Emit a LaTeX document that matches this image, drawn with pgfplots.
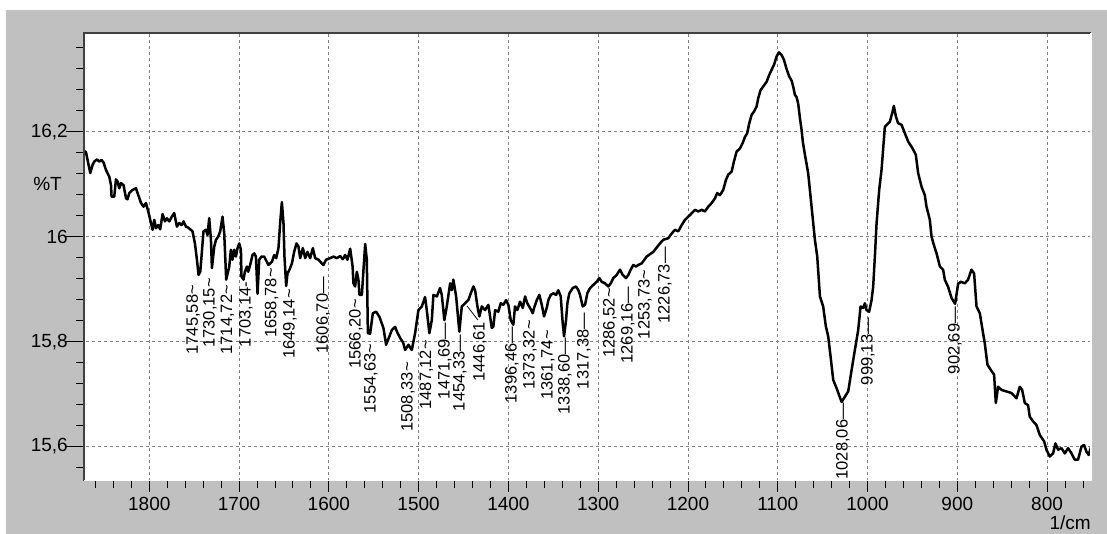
\documentclass[border=0pt]{standalone}
\usepackage{fontspec}
\setmainfont{Liberation Sans}
\usepackage{pgfplots}
\pgfplotsset{compat=1.18}
\usepackage{pgfplotstable}
\definecolor{bgray}{HTML}{C0C0C0}
\definecolor{gridgray}{HTML}{808080}
\definecolor{framedark}{HTML}{404040}

\pgfplotstableread{
x y
1871.8 16.163
1870.5 16.161
1868.7 16.146
1865.7 16.121
1863.1 16.137
1861.2 16.143
1858.2 16.147
1855.7 16.143
1853.1 16.146
1850.9 16.141
1848.2 16.127
1844.5 16.114
1842.6 16.098
1842.0 16.076
1839.0 16.076
1837.1 16.109
1835.3 16.105
1833.4 16.092
1831.5 16.102
1828.6 16.098
1825.9 16.073
1824.2 16.071
1822.3 16.083
1818.6 16.089
1814.8 16.092
1813.0 16.083
1809.2 16.064
1806.3 16.057
1803.7 16.064
1801.1 16.048
1798.1 16.026
1796.3 16.013
1794.4 16.032
1792.5 16.016
1790.0 16.022
1787.8 16.014
1785.2 16.043
1782.5 16.029
1780.3 16.035
1777.7 16.029
1775.2 16.037
1772.2 16.045
1769.2 16.019
1766.6 16.026
1764.0 16.022
1761.8 16.029
1759.1 16.019
1757.4 16.018
1754.4 16.014
1751.8 16.010
1749.1 15.987
1746.9 15.956
1745.1 15.927
1743.2 15.933
1741.8 15.962
1739.6 16.010
1736.9 16.013
1735.1 16.003
1733.2 16.035
1731.3 15.994
1730.2 15.940
1727.6 15.981
1725.7 15.994
1723.2 16.000
1721.0 16.010
1718.4 16.038
1716.5 16.006
1714.3 15.918
1710.9 15.943
1709.1 15.975
1707.3 15.956
1705.4 15.975
1703.5 15.962
1701.7 15.978
1699.8 15.987
1697.9 15.975
1697.3 15.924
1695.0 15.918
1693.5 15.933
1691.2 15.943
1689.8 15.933
1687.6 15.946
1685.0 15.965
1683.1 15.968
1681.2 15.962
1679.4 15.891
1677.5 15.956
1675.0 15.962
1672.0 15.962
1667.2 15.946
1663.4 15.952
1660.8 15.965
1658.6 15.959
1656.1 15.978
1654.2 16.026
1652.3 16.066
1650.5 16.026
1649.4 15.962
1647.5 15.906
1646.0 15.930
1643.8 15.937
1641.1 15.949
1638.6 15.971
1636.0 15.987
1633.8 15.981
1631.9 15.959
1628.9 15.978
1626.3 15.959
1623.8 15.971
1620.8 15.959
1617.8 15.978
1615.2 15.959
1611.5 15.956
1607.8 15.949
1606.0 15.946
1603.0 15.956
1598.5 15.959
1594.8 15.962
1591.0 15.959
1587.4 15.963
1584.4 15.957
1581.8 15.965
1579.3 15.956
1576.2 15.977
1573.5 15.943
1572.6 15.911
1570.7 15.905
1568.8 15.933
1567.0 15.918
1565.9 15.889
1563.2 15.889
1561.4 15.937
1559.5 15.986
1557.7 15.956
1556.5 15.816
1554.0 15.815
1551.0 15.854
1547.3 15.857
1543.6 15.847
1539.2 15.826
1536.2 15.794
1532.5 15.810
1529.8 15.822
1526.2 15.828
1523.6 15.817
1520.6 15.807
1517.2 15.798
1515.0 15.784
1511.3 15.794
1507.6 15.784
1503.9 15.816
1500.2 15.860
1496.4 15.867
1492.8 15.885
1490.9 15.860
1488.0 15.816
1485.3 15.841
1483.5 15.889
1479.7 15.886
1476.1 15.902
1474.2 15.889
1471.3 15.841
1468.6 15.867
1464.9 15.911
1463.0 15.898
1461.3 15.918
1458.2 15.886
1454.6 15.819
1451.9 15.867
1448.2 15.873
1444.6 15.879
1441.9 15.892
1439.0 15.905
1437.1 15.898
1434.5 15.867
1432.3 15.848
1429.6 15.867
1426.0 15.860
1422.3 15.870
1418.5 15.826
1416.7 15.829
1414.8 15.860
1411.2 15.857
1408.5 15.873
1405.6 15.870
1402.6 15.879
1400.0 15.870
1397.4 15.841
1394.5 15.832
1392.6 15.867
1390.0 15.860
1387.0 15.876
1384.0 15.864
1381.4 15.886
1378.9 15.873
1375.9 15.864
1372.9 15.854
1371.4 15.864
1368.4 15.879
1365.5 15.889
1362.8 15.870
1360.3 15.848
1357.3 15.864
1355.5 15.879
1352.8 15.889
1349.9 15.892
1346.9 15.889
1344.4 15.898
1341.7 15.886
1339.5 15.835
1338.0 15.810
1335.8 15.841
1334.3 15.873
1332.1 15.892
1328.3 15.902
1324.7 15.905
1322.1 15.898
1320.2 15.889
1317.2 15.867
1314.6 15.870
1312.1 15.892
1309.1 15.902
1305.4 15.908
1301.6 15.914
1298.7 15.921
1296.1 15.914
1292.4 15.911
1288.7 15.905
1286.0 15.911
1283.1 15.921
1279.4 15.927
1275.7 15.937
1272.7 15.927
1269.0 15.921
1266.4 15.927
1263.8 15.937
1260.9 15.946
1257.9 15.943
1255.3 15.946
1251.5 15.949
1246.0 15.962
1238.6 15.971
1231.2 15.987
1227.5 15.994
1221.9 15.997
1218.1 16.006
1214.5 16.013
1210.8 16.010
1207.0 16.022
1203.3 16.032
1197.8 16.041
1192.2 16.051
1188.5 16.048
1184.7 16.051
1181.1 16.048
1177.4 16.057
1173.6 16.064
1169.9 16.073
1167.4 16.083
1164.4 16.079
1160.7 16.089
1157.7 16.108
1155.1 16.118
1151.3 16.124
1148.8 16.143
1145.8 16.162
1142.1 16.168
1139.1 16.178
1136.5 16.190
1134.0 16.197
1131.7 16.216
1129.1 16.232
1126.5 16.238
1123.5 16.248
1121.7 16.264
1119.1 16.279
1116.2 16.286
1112.4 16.295
1109.5 16.308
1106.8 16.318
1104.2 16.327
1101.3 16.343
1098.7 16.351
1095.7 16.346
1093.1 16.337
1090.1 16.319
1087.2 16.305
1084.5 16.297
1082.8 16.286
1080.9 16.270
1079.0 16.266
1077.2 16.253
1075.3 16.226
1073.4 16.203
1072.0 16.180
1069.7 16.156
1066.1 16.121
1064.2 16.089
1061.2 16.038
1058.6 15.994
1056.0 15.962
1053.0 15.886
1049.4 15.867
1046.4 15.829
1043.8 15.810
1041.1 15.771
1038.2 15.727
1034.4 15.711
1028.9 15.685
1025.2 15.695
1021.5 15.705
1017.7 15.746
1014.1 15.784
1010.4 15.822
1007.7 15.867
1004.8 15.864
1002.9 15.873
1001.1 15.860
998.2 15.857
995.5 15.879
993.7 15.905
991.8 15.962
989.9 16.026
987.0 16.089
984.4 16.127
980.7 16.209
975.1 16.219
972.1 16.238
970.7 16.249
968.4 16.229
965.9 16.216
962.1 16.213
958.4 16.197
954.7 16.181
949.8 16.168
946.2 16.156
943.6 16.121
939.8 16.095
936.2 16.079
934.3 16.057
930.6 16.032
928.7 16.000
926.1 15.984
923.1 15.968
919.4 15.943
915.8 15.937
913.9 15.918
910.2 15.904
906.4 15.883
902.4 15.872
899.1 15.910
896.1 15.914
891.6 15.911
888.0 15.918
884.2 15.937
881.3 15.930
878.6 15.867
874.9 15.854
871.3 15.816
869.4 15.797
866.4 15.756
862.7 15.746
859.0 15.737
857.1 15.683
854.6 15.714
850.8 15.708
845.2 15.705
839.6 15.702
834.1 15.692
830.4 15.714
827.8 15.708
824.8 15.683
821.2 15.679
819.3 15.657
815.6 15.648
811.8 15.641
808.1 15.622
803.3 15.610
800.7 15.594
797.0 15.581
793.3 15.587
790.7 15.606
787.7 15.594
784.0 15.597
780.3 15.587
776.6 15.597
772.8 15.587
769.2 15.575
765.5 15.575
761.7 15.600
758.8 15.603
756.1 15.590
753.6 15.584
751.4 15.598
}\spectrum

\newcommand{\lab}[3]{\node[rotate=90,anchor=east,inner sep=0pt,font=\fontsize{16.5}{18}\selectfont] at (axis cs:#1,#2) {#3};}

\begin{document}
\begin{tikzpicture}
\useasboundingbox (0,0) rectangle (1107pt,534pt);
\fill[white] (0,0) rectangle (1107pt,534pt);
\fill[bgray] (6pt,0) rectangle (1107pt,524pt);
\begin{axis}[
  name=ax,
  at={(84pt,53.3pt)}, anchor=south west,
  scale only axis, width=1007pt, height=447.2pt,
  x dir=reverse,
  xmin=751.1, xmax=1872.7, ymin=15.535, ymax=16.387,
  xtick={800,900,...,1800},
  xticklabels={800,900,1000,1100,1200,1300,1400,1500,1600,1700,1800},
  minor xtick={760,780,...,1860},
  ytick={15.6,15.8,16,16.2},
  yticklabels={{15,6},{15,8},{16},{16,2}},
  minor ytick={15.56,15.64,15.68,15.72,15.76,15.84,15.88,15.92,15.96,16.04,16.08,16.12,16.16,16.24,16.28,16.32,16.36},
  tick pos=left, tick align=outside,
  major tick length=12pt, minor tick length=7pt,
  ytick style={/pgfplots/major tick length=18pt, /pgfplots/minor tick length=8pt},
  xtick style={/pgfplots/major tick length=11pt, /pgfplots/minor tick length=7pt},
  tick style={black, line width=0.9pt},
  grid=major,
  major grid style={gridgray, line width=0.9pt, dash pattern=on 3pt off 3pt},
  axis background/.style={fill=white},
  axis line style={draw=none},
  ticklabel style={font=\fontsize{19}{21}\selectfont, text=black},
  xticklabel style={inner sep=0pt, yshift=-4pt},
  yticklabel style={inner sep=0pt, xshift=-4pt},
  clip mode=individual,
]
\addplot[black, line width=2.5pt, line join=round] table[x=x,y=y]{\spectrum};
\lab{1751.0}{15.908}{1745,58\textasciitilde}
\lab{1732.4}{15.921}{1730,15\textasciitilde}
\lab{1712.9}{15.908}{1714,72\textasciitilde}
\lab{1692.3}{15.914}{1703,14-}
\lab{1663.7}{15.940}{1658,78\textasciitilde}
\lab{1643.3}{15.900}{1649,14\textasciitilde}
\lab{1606.2}{15.923}{1606,70—}
\lab{1569.8}{15.881}{1566,20\textasciitilde}
\lab{1553.1}{15.796}{1554,63\textasciitilde}
\lab{1511.9}{15.761}{1508,33\textasciitilde}
\lab{1491.3}{15.803}{1487,12\textasciitilde}
\lab{1470.7}{15.836}{1471,69—}
\lab{1453.9}{15.813}{1454,33—}
\lab{1431.7}{15.838}{1446,61}
\draw[black, line width=0.8pt] (axis cs:1446.1,15.868) -- (axis cs:1433.9,15.841);
\lab{1396.0}{15.828}{1396,46—}
\lab{1376.0}{15.841}{1373,32\textasciitilde}
\lab{1355.9}{15.822}{1361,74\textasciitilde}
\lab{1337.0}{15.807}{1338,60—}
\lab{1315.8}{15.855}{1317,38—}
\lab{1286.9}{15.902}{1286,52\textasciitilde}
\lab{1266.8}{15.904}{1269,16—}
\lab{1247.9}{15.937}{1253,73\textasciitilde}
\lab{1225.6}{15.980}{1226,73—}
\lab{1027.4}{15.683}{1028,06—}
\lab{999.5}{15.845}{999,13—}
\lab{902.6}{15.866}{902,69—}
\end{axis}
\draw[framedark, line width=2pt] (ax.south west) -- (ax.north west) -- (ax.north east);
\draw[white, line width=1.2pt] (ax.north east) -- (ax.south east) -- (ax.south west);
\node[anchor=east, inner sep=0pt, font=\fontsize{19}{21}\selectfont] at (62pt,350pt) {\%T};
\node[anchor=south east, inner sep=0pt, font=\fontsize{19}{21}\selectfont] at (1091pt,4pt) {1/cm};
\end{tikzpicture}
\end{document}
